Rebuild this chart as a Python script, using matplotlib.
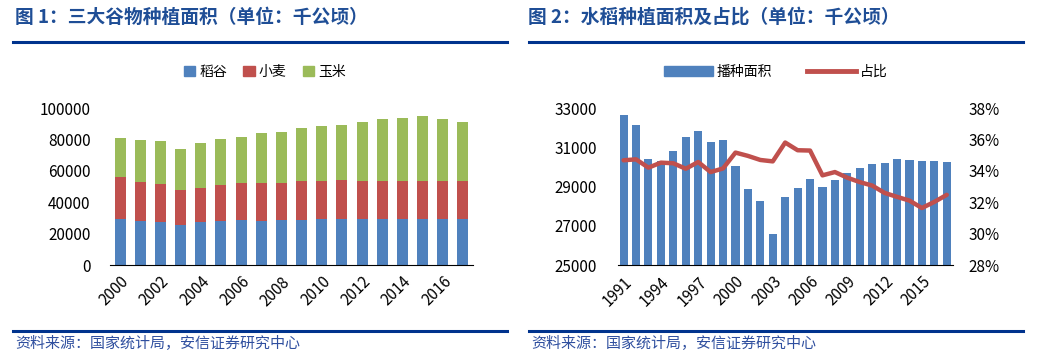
import matplotlib
matplotlib.use("Agg")
import matplotlib.pyplot as plt
from matplotlib.lines import Line2D
from matplotlib.patches import Patch
from matplotlib.ticker import FuncFormatter

plt.rcParams['font.family'] = ['Noto Sans CJK SC', 'DejaVu Sans']

# chart 1: three grains area (thousand ha)
years1 = list(range(2000, 2018))
rice1 = [29240, 27900, 27100, 25400, 27100, 27900, 28800, 27900, 28400, 28400,
         29200, 29200, 29200, 29400, 29400, 29200, 29200, 29200]
wheat_top = [56330, 53100, 51600, 47700, 49000, 51000, 52400, 52000, 52200, 53300,
             53700, 54000, 53700, 53700, 53700, 53700, 53700, 53700]
total = [81060, 79300, 78700, 74200, 77400, 80000, 81700, 83900, 84500, 87100,
         88400, 89400, 91400, 92700, 93500, 94600, 92700, 91400]
wheat1 = [w - r for w, r in zip(wheat_top, rice1)]
corn1 = [t - w for t, w in zip(total, wheat_top)]

# chart 2: rice area and share
years2 = list(range(1991, 2018))
rice2 = [32660, 32150, 30410, 30280, 30820, 31500, 31840, 31280, 31380, 30060,
         28880, 28270, 26580, 28460, 28910, 29390, 28980, 29340, 29700, 29950,
         30140, 30210, 30400, 30370, 30310, 30280, 30260]
share2 = [34.67, 34.73, 34.20, 34.52, 34.48, 34.13, 34.56, 33.92, 34.15, 35.16,
          34.95, 34.69, 34.60, 35.80, 35.31, 35.29, 33.71, 33.92, 33.56, 33.28,
          33.06, 32.59, 32.34, 32.10, 31.63, 32.02, 32.47]

BLUE = '#4F81BD'
RED = '#C0504D'
GREEN = '#9BBB59'
TITLE_C = '#1F4E96'
RULE_C = '#00338D'

fig = plt.figure(figsize=(10.4, 3.63), dpi=100)

def fx(px):
    return px / 1040

def fy(py):
    return 1 - py / 363

# titles and rules
fig.text(fx(15), fy(17), '图 1：三大谷物种植面积（单位：千公顷）', fontsize=13.5,
         fontweight='bold', color=TITLE_C, va='center')
fig.text(fx(528), fy(17), '图 2：水稻种植面积及占比（单位：千公顷）', fontsize=13.5,
         fontweight='bold', color=TITLE_C, va='center')
for x0, x1 in [(13, 507), (529, 1023)]:
    for yy in [41.5, 331]:
        fig.add_artist(Line2D([fx(x0), fx(x1)], [fy(yy), fy(yy)], color=RULE_C, lw=2.2))
fig.text(fx(15), fy(344), '资料来源：国家统计局，安信证券研究中心', fontsize=10.8,
         color='#2F4F9F', va='center', style='italic')
fig.text(fx(531), fy(344), '资料来源：国家统计局，安信证券研究中心', fontsize=10.8,
         color='#2F4F9F', va='center', style='italic')

# chart 1
ax1 = fig.add_axes([fx(110), fy(265), fx(473 - 110), (265 - 108) / 363])
x1 = range(len(years1))
ax1.bar(x1, rice1, width=0.55, color=BLUE)
ax1.bar(x1, wheat1, width=0.55, bottom=rice1, color=RED)
ax1.bar(x1, corn1, width=0.55, bottom=wheat_top, color=GREEN)
ax1.set_xlim(-0.5, len(years1) - 0.5)
ax1.set_ylim(0, 100000)
ax1.set_yticks(range(0, 100001, 20000))
ax1.set_xticks(list(x1)[::2])
ax1.set_xticklabels([str(y) for y in years1[::2]], rotation=45, ha='right',
                    rotation_mode='anchor', fontsize=11)
ax1.tick_params(axis='y', labelsize=11, length=0, pad=14)
ax1.tick_params(axis='x', length=0, pad=6)
for s in ['top', 'right', 'left']:
    ax1.spines[s].set_visible(False)
ax1.spines['bottom'].set_color('black')
ax1.legend(handles=[Patch(color=BLUE, label='稻谷'), Patch(color=RED, label='小麦'),
                    Patch(color=GREEN, label='玉米')],
           loc='center', bbox_to_anchor=(fx(265), fy(72)), bbox_transform=fig.transFigure,
           ncol=3, frameon=False, fontsize=10, handlelength=0.8, handleheight=0.8,
           handletextpad=0.3, columnspacing=1.2)

# chart 2
ax2 = fig.add_axes([fx(618), fy(265), fx(953 - 618), (265 - 108) / 363])
x2 = range(len(years2))
ax2.bar(x2, rice2, width=0.65, color=BLUE, zorder=1)
ax2.set_xlim(-0.45, len(years2) - 0.5)
ax2.set_ylim(25000, 33000)
ax2.set_yticks(range(25000, 33001, 2000))
ax2.set_xticks(list(x2)[::3])
ax2.set_xticklabels([str(y) for y in years2[::3]], rotation=45, ha='right',
                    rotation_mode='anchor', fontsize=11)
ax2.tick_params(axis='y', labelsize=11, length=0, pad=15)
ax2.tick_params(axis='x', length=0, pad=6)
for s in ['top', 'right', 'left']:
    ax2.spines[s].set_visible(False)
ax2.spines['bottom'].set_color('black')
ax2.spines['bottom'].set_zorder(5)

ax3 = ax2.twinx()
ax3.plot(list(x2), share2, color=RED, lw=3.2, solid_capstyle='round')
ax3.set_ylim(28, 38)
ax3.set_yticks(range(28, 39, 2))
ax3.yaxis.set_major_formatter(FuncFormatter(lambda v, p: f'{v:.0f}%'))
ax3.tick_params(axis='y', labelsize=11, length=0, pad=11)
for s in ['top', 'right', 'left', 'bottom']:
    ax3.spines[s].set_visible(False)
ax2.legend(handles=[Patch(color=BLUE, label='播种面积'),
                    Line2D([], [], color=RED, lw=3.5, label='占比')],
           loc='center', bbox_to_anchor=(fx(776), fy(72)), bbox_transform=fig.transFigure,
           ncol=2, frameon=False, fontsize=10, handlelength=3.5, handleheight=0.8,
           handletextpad=0.3, columnspacing=2.5)

fig.savefig('out.png', dpi=100)
